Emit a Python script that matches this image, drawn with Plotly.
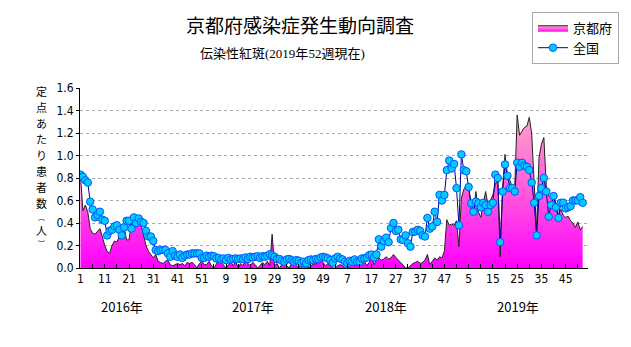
import plotly.graph_objects as go

# ---- data (weekly values per sentinel, 2016 wk1 .. 2019 wk52) ----
kyoto_2016 = [0.82, 0.51, 0.56, 0.50, 0.35, 0.31, 0.30, 0.33, 0.35, 0.28,
              0.20, 0.15, 0.13, 0.20, 0.24, 0.23, 0.28, 0.33, 0.36, 0.25,
              0.25, 0.40, 0.42, 0.41, 0.40, 0.38, 0.28, 0.20, 0.15, 0.12,
              0.09, 0.12, 0.06, 0.05, 0.04, 0.06, 0.07, 0.03, 0.02, 0.03,
              0.04, 0.03, 0.04, 0.02, 0.05, 0.04, 0.05, 0.03, 0.00, 0.04,
              0.06, 0.03]
kyoto_2017 = [0.03, 0.06, 0.02, 0.00, 0.04, 0.07, 0.05, 0.02, 0.00, 0.03,
              0.05, 0.02, 0.06, 0.00, 0.04, 0.02, 0.07, 0.04, 0.02, 0.05,
              0.03, 0.00, 0.02, 0.05, 0.03, 0.06, 0.02, 0.30, 0.02, 0.04,
              0.00, 0.03, 0.05, 0.02, 0.00, 0.04, 0.06, 0.02, 0.00, 0.03,
              0.02, 0.05, 0.00, 0.02, 0.04, 0.03, 0.06, 0.09, 0.05, 0.02,
              0.04, 0.02]
kyoto_2018 = [0.00, 0.00, 0.02, 0.03, 0.02, 0.00, 0.00, 0.02, 0.04, 0.02,
              0.03, 0.05, 0.04, 0.06, 0.02, 0.05, 0.11, 0.03, 0.07, 0.09,
              0.07, 0.08, 0.10, 0.08, 0.09, 0.12, 0.09, 0.07, 0.05, 0.02,
              0.00, 0.00, 0.02, 0.04, 0.05, 0.06, 0.04, 0.05, 0.07, 0.12,
              0.03, 0.06, 0.09, 0.07, 0.10, 0.09, 0.15, 0.43, 0.38, 0.39,
              0.38, 0.42]
kyoto_2019 = [0.19, 0.62, 0.70, 0.73, 0.75, 0.52, 0.50, 0.68, 0.50, 0.45,
              0.58, 0.68, 0.56, 0.60, 0.65, 0.74, 0.80, 0.10, 0.72, 1.01,
              0.83, 0.78, 0.72, 0.72, 1.36, 1.18, 1.22, 1.25, 1.26, 1.34,
              1.19, 0.71, 0.33, 0.98, 1.10, 1.16, 0.73, 0.64, 0.62, 0.66,
              0.56, 0.47, 0.52, 0.47, 0.45, 0.46, 0.42, 0.40, 0.36, 0.41,
              0.34, 0.37]

national_2016 = [0.83, 0.81, 0.78, 0.76, 0.59, 0.52, 0.45, 0.47, 0.50, 0.43,
                 0.42, 0.29, 0.33, 0.34, 0.37, 0.38, 0.34, 0.29, 0.36, 0.42,
                 0.42, 0.35, 0.45, 0.40, 0.44, 0.41, 0.40, 0.33, 0.28, 0.28,
                 0.24, 0.16, 0.15, 0.16, 0.16, 0.16, 0.13, 0.10, 0.15, 0.11,
                 0.10, 0.12, 0.09, 0.11, 0.12, 0.12, 0.13, 0.13, 0.13, 0.13,
                 0.09, 0.09]
national_2017 = [0.11, 0.10, 0.11, 0.105, 0.085, 0.09, 0.076, 0.085, 0.07, 0.09,
                 0.076, 0.08, 0.085, 0.08, 0.085, 0.08, 0.094, 0.08, 0.10, 0.094,
                 0.10, 0.105, 0.09, 0.105, 0.10, 0.108, 0.123, 0.114, 0.10, 0.08,
                 0.08, 0.065, 0.056, 0.076, 0.08, 0.07, 0.056, 0.07, 0.065, 0.047,
                 0.056, 0.041, 0.07, 0.076, 0.07, 0.08, 0.08, 0.094, 0.10, 0.094,
                 0.085, 0.07]
national_2018 = [0.047, 0.085, 0.10, 0.085, 0.076, 0.055, 0.041, 0.064, 0.055, 0.076,
                 0.055, 0.055, 0.085, 0.085, 0.094, 0.114, 0.12, 0.094, 0.12, 0.255,
                 0.19, 0.24, 0.27, 0.23, 0.355, 0.40, 0.33, 0.34, 0.255, 0.25,
                 0.29, 0.22, 0.19, 0.32, 0.325, 0.34, 0.33, 0.29, 0.28, 0.445,
                 0.35, 0.37, 0.50, 0.41, 0.65, 0.60, 0.65, 0.87, 0.955, 0.885,
                 0.925, 0.71]
national_2019 = [0.38, 1.01, 0.87, 0.86, 0.72, 0.575, 0.50, 0.59, 0.575, 0.54,
                 0.58, 0.56, 0.50, 0.56, 0.58, 0.83, 0.80, 0.23, 0.68, 0.92,
                 0.82, 0.71, 0.71, 0.68, 0.935, 0.90, 0.935, 0.91, 0.90, 0.87,
                 0.76, 0.58, 0.29, 0.64, 0.71, 0.80, 0.68, 0.457, 0.56, 0.64,
                 0.54, 0.445, 0.58, 0.58, 0.53, 0.54, 0.55, 0.60, 0.60, 0.60,
                 0.63, 0.58]

tick_labels = ["1", "11", "21", "31", "41", "51", "9", "19", "29", "39", "49",
               "7", "17", "27", "37", "47", "5", "15", "25", "35", "45"]
year_labels = ["2016年", "2017年", "2018年", "2019年"]
ytitle_chars = ["定", "点", "あ", "た", "り", "患", "者", "数", "︵", "人", "︶"]

kyoto = kyoto_2016 + kyoto_2017 + kyoto_2018 + kyoto_2019
national = national_2016 + national_2017 + national_2018 + national_2019
idx = list(range(len(kyoto)))

JP = "Noto Sans CJK JP"
NUM = "Liberation Sans Narrow, DejaVu Sans Condensed, Arial Narrow, sans-serif"

# plot area in pixels
L, R, T, B = 80, 597, 86, 268
PW, PH = R - L, B - T


def px(xp):
    return (xp - L) / PW


def py(yp):
    return (B - yp) / PH


fig = go.Figure()
fig.add_trace(go.Scatter(
    x=idx, y=kyoto, name="京都府", mode="lines",
    line=dict(color="#222222", width=1),
    fill="tozeroy",
    fillgradient=dict(type="vertical", start=0, stop=1.4,
                      colorscale=[[0, "#FF00FF"], [0.45, "#FF55DD"], [1, "#FFA6C9"]]),
    fillcolor="#FF66CC",
))
fig.add_trace(go.Scatter(
    x=idx, y=national, name="全国", mode="lines+markers",
    line=dict(color="#000099", width=1),
    marker=dict(color="#00CCFF", size=7.5, line=dict(color="#0055FF", width=1)),
))

tickvals = list(range(0, 208, 5))
ticktext = [tick_labels[v // 10] if v % 10 == 0 else "" for v in tickvals]

fig.update_layout(
    width=631, height=347,
    margin=dict(l=L, r=631 - R, t=T, b=347 - B),
    paper_bgcolor="white", plot_bgcolor="white",
    showlegend=True,
    legend=dict(x=px(540), y=py(9), xanchor="left", yanchor="top",
                bordercolor="#AAAAAA", borderwidth=1, bgcolor="white",
                font=dict(family=JP, size=13, color="black"),
                tracegroupgap=0, itemwidth=30),
    xaxis=dict(range=[-0.2, 209.2], tickmode="array", tickvals=tickvals, ticktext=ticktext,
               ticks="inside", ticklen=4, tickcolor="black", showgrid=False,
               showline=True, linecolor="black", linewidth=1, zeroline=False,
               tickfont=dict(family=NUM, size=12, color="black")),
    yaxis=dict(range=[0, 1.6], tickvals=[0, 0.2, 0.4, 0.6, 0.8, 1.0, 1.2, 1.4, 1.6],
               ticktext=["0.0", "0.2", "0.4", "0.6", "0.8", "1.0", "1.2", "1.4", "1.6"],
               ticks="outside", ticklen=3, tickcolor="black",
               showgrid=True, gridcolor="#A8A8B0", griddash="dot", gridwidth=1,
               showline=True, linecolor="black", linewidth=1, zeroline=False,
               tickfont=dict(family=NUM, size=12, color="black")),
)

fig.add_annotation(text="京都府感染症発生動向調査", xref="paper", yref="paper",
                   x=px(304), y=py(22), showarrow=False,
                   font=dict(family=JP, size=19, color="black"),
                   xanchor="center", yanchor="middle")
nar = "<span style='font-family:Liberation Sans Narrow'>%s</span>"
subtitle = "伝染性紅斑" + nar % "(2019" + "年" + nar % "52" + "週現在" + nar % ")"
fig.add_annotation(text=subtitle, xref="paper", yref="paper",
                   x=px(200), y=py(50), showarrow=False,
                   font=dict(family=JP, size=13, color="black"),
                   xanchor="left", yanchor="middle")

# vertical y-axis title, one character per annotation
ypos = [89, 105.2, 121.4, 137.6, 153.8, 170, 186.2, 202.4, 216.5, 229.5, 243]
for ch, yy in zip(ytitle_chars, ypos):
    small = ch in ("︵", "︶")
    fig.add_annotation(text=ch, xref="paper", yref="paper",
                       x=px(41), y=py(yy), showarrow=False,
                       font=dict(family=JP, size=7 if small else 11, color="black"),
                       xanchor="center", yanchor="middle")

year_x = [17.2, 71.3, 125.9, 180.4]
for lbl, xv in zip(year_labels, year_x):
    fig.add_annotation(text=lbl, x=xv, xref="x", yref="paper", y=py(307),
                       showarrow=False, font=dict(family=JP, size=13, color="black"),
                       xanchor="center", yanchor="middle")

fig.write_html("out.html")
